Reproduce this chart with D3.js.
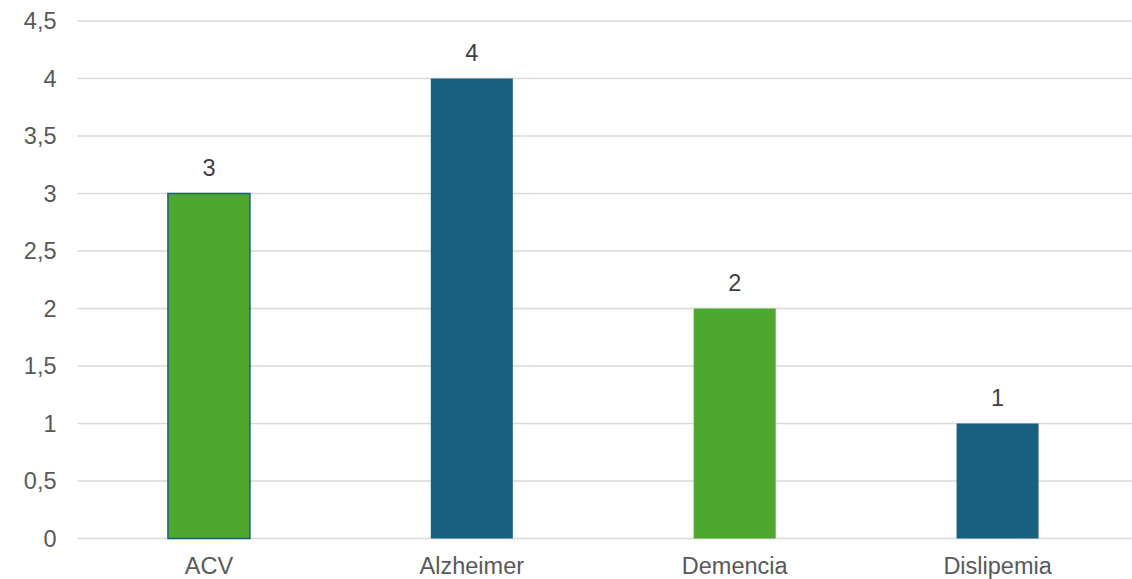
<!DOCTYPE html>
<html>
<head>
<meta charset="utf-8">
<script src="https://cdn.jsdelivr.net/npm/d3@7"></script>
<style>
  html, body { margin: 0; padding: 0; background: #fff; }
  svg { display: block; }
  text { font-family: "Liberation Sans", Arial, sans-serif; }
</style>
</head>
<body>
<svg id="chart" width="1132" height="579"></svg>
<script>
// Casos por diagnóstico
const categories = ["ACV", "Alzheimer", "Demencia", "Dislipemia"];
const values = [3, 4, 2, 1];
const yTicks = [0, 0.5, 1, 1.5, 2, 2.5, 3, 3.5, 4, 4.5];
const barColors = ["#4ea72e", "#17607f", "#4ea72e", "#17607f"];

const svg = d3.select("#chart");
const plotLeft = 77.5, plotRight = 1129, plotTop = 21, plotBottom = 538.5;

const x = d3.scaleBand()
  .domain(categories)
  .range([plotLeft, plotRight])
  .paddingInner(0.688)
  .paddingOuter(0.344);

const y = d3.scaleLinear()
  .domain([0, 4.5])
  .range([plotBottom, plotTop]);

const fmt = d => String(d).replace(".", ",");

// Horizontal gridlines
svg.append("g")
  .selectAll("line")
  .data(yTicks)
  .join("line")
  .attr("x1", plotLeft)
  .attr("x2", 1132)
  .attr("y1", d => y(d))
  .attr("y2", d => y(d))
  .attr("stroke", "#d9d9d9")
  .attr("stroke-width", 1.5);

// Y axis labels
const yAxis = d3.axisLeft(y).tickValues(yTicks).tickFormat(fmt).tickSize(0).tickPadding(21);
const gy = svg.append("g").attr("transform", `translate(${plotLeft},0)`).call(yAxis);
gy.select(".domain").remove();
gy.selectAll("text")
  .attr("fill", "#595959")
  .style("font-size", "23.5px")
  .style("font-family", "'Liberation Sans', Arial, sans-serif");

// Bars
svg.append("g")
  .selectAll("rect")
  .data(categories)
  .join("rect")
  .attr("x", d => x(d))
  .attr("width", x.bandwidth())
  .attr("y", (d, i) => y(values[i]))
  .attr("height", (d, i) => y(0) - y(values[i]))
  .attr("fill", (d, i) => barColors[i])
  .attr("stroke", (d, i) => i === 0 ? "#17607f" : "none")
  .attr("stroke-width", 1.5);

// Value labels
svg.append("g")
  .selectAll("text")
  .data(categories)
  .join("text")
  .attr("x", d => x(d) + x.bandwidth() / 2)
  .attr("y", (d, i) => y(values[i]) - 18)
  .attr("text-anchor", "middle")
  .attr("fill", "#404040")
  .style("font-size", "23.5px")
  .text((d, i) => fmt(values[i]));

// X axis labels
const xAxis = d3.axisBottom(x).tickSize(0).tickPadding(0);
const gx = svg.append("g").attr("transform", `translate(0,${plotBottom})`).call(xAxis);
gx.select(".domain").remove();
gx.selectAll("text")
  .attr("dy", null)
  .attr("y", 35)
  .attr("fill", "#595959")
  .style("font-size", "23.5px")
  .style("font-family", "'Liberation Sans', Arial, sans-serif");
</script>
</body>
</html>
